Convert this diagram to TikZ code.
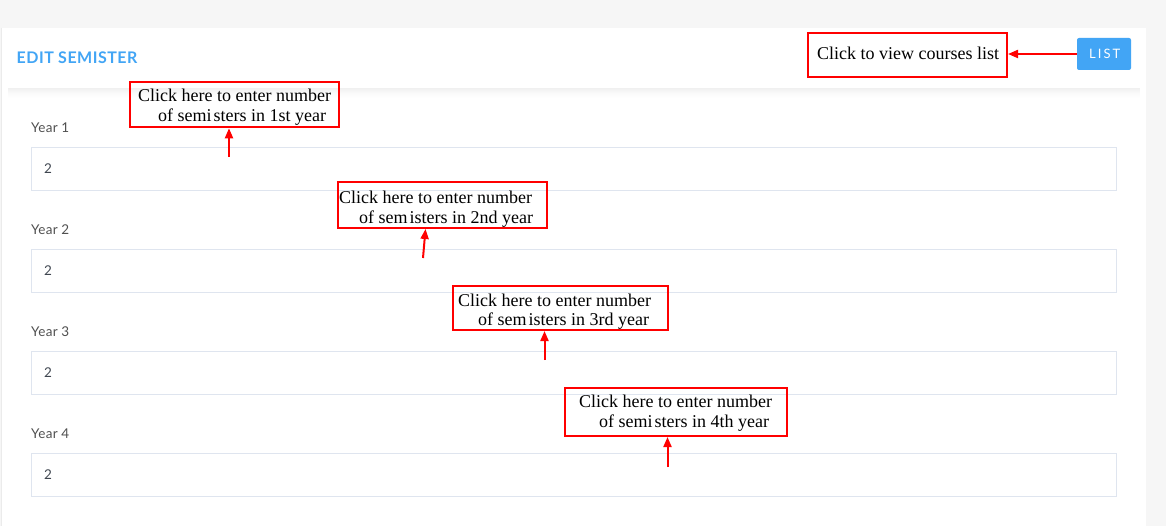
\documentclass[tikz,border=0pt]{standalone}
\usepackage{fontspec}
\setmainfont{Liberation Serif}
\newfontfamily\uifont[LetterSpace=2]{Lato}
\newfontfamily\uifontbold[LetterSpace=3]{Lato Bold}
\newfontfamily\listfont[LetterSpace=16]{Lato}
\usetikzlibrary{arrows.meta,calc}
\definecolor{bggray}{HTML}{F6F6F6}
\definecolor{uiblue}{HTML}{42A5F5}
\definecolor{fieldborder}{HTML}{DFE5EF}
\definecolor{labelgray}{HTML}{505050}
\definecolor{valgray}{HTML}{3F4650}
\definecolor{annred}{HTML}{FF0000}
\begin{document}
\begin{tikzpicture}[x=1pt,y=-1pt,
  annbox/.style={draw=annred, line width=2pt, inner sep=0pt},
  anntext/.style={font=\fontsize{18}{20}\selectfont, inner sep=0pt, anchor=base west},
  annarrow/.style={draw=annred, line width=2pt, -{Triangle[length=10pt,width=8pt]}},
  field/.style={draw=fieldborder, line width=1pt, fill=white, inner sep=0pt, anchor=north west, minimum width=1085pt, minimum height=43pt},
  ylabel/.style={font=\uifont\fontsize{13.5}{15}\selectfont, text=labelgray, anchor=base west, inner sep=0pt},
  fval/.style={font=\uifont\fontsize{13.5}{15}\selectfont, text=valgray, anchor=base west, inner sep=0pt}
]
\useasboundingbox (0,0) rectangle (1166,526);
% background and card
\fill[bggray] (0,0) rectangle (1166,526);
\fill[white] (2,28) rectangle (1146,526);
\draw[black!8, line width=0.8pt] (1.5,28) -- (1.5,526);
% header shadow
\foreach \i/\o in {0/0.06,1/0.05,2/0.042,3/0.034,4/0.027,5/0.02,6/0.015,7/0.01,8/0.006,9/0.003}
  \fill[black, opacity=\o] (8,88+\i) rectangle (1140,89+\i);

% header title
\node[font=\uifontbold\fontsize{16}{18}\selectfont, text=uiblue, anchor=base west, inner sep=0pt] (title) at (16.5,63.3) {EDIT SEMISTER};

% LIST button
\node[fill=uiblue, rounded corners=2pt, minimum width=54pt, minimum height=32pt, inner sep=0pt, text=white, font=\listfont\fontsize{13}{15}\selectfont] (list) at (1104,54) {LIST\kern-1.5pt};

% fields and labels
\foreach \k/\yy in {1/147,2/249,3/351,4/453}{
  \node[field] (f\k) at (31,\yy) {};
  \node[ylabel] (l\k) at (31,\yy-14.3) {Year \k};
  \node[fval] (v\k) at (44,\yy+26.3) {2};
}

% annotation boxes
\node[annbox, minimum width=209pt, minimum height=45.6pt] (b1) at (234.5,104.5) {};
\node[annbox, minimum width=209pt, minimum height=46pt] (b2) at (442.5,205) {};
\node[annbox, minimum width=215pt, minimum height=44pt] (b3) at (560.5,308) {};
\node[annbox, minimum width=222pt, minimum height=48pt] (b4) at (676,412) {};
\node[annbox, minimum width=199pt, minimum height=44pt] (b5) at (907.5,55) {};

% annotation texts
\node[anntext] (t1a) at (138,102) {Click here to enter number};
\node[anntext] (t1b) at (158,122) {of semi\kern2pt sters in 1st year};
\node[anntext] (t2a) at (339,204) {Click here to enter number};
\node[anntext] (t2b) at (359,224) {of sem\kern2pt isters in 2nd year};
\node[anntext] (t3a) at (458,306) {Click here to enter number};
\node[anntext] (t3b) at (478,325) {of sem\kern2pt isters in 3rd year};
\node[anntext] (t4a) at (579,407) {Click here to enter number};
\node[anntext] (t4b) at (599,427) {of semi\kern2pt sters in 4th year};
\node[anntext] (t5) at (817,60) {Click to view courses list};

% arrows
\coordinate (s1) at (229,157);
\coordinate (s2) at (423,258);
\coordinate (s3) at (544.5,360);
\coordinate (s4) at (667.5,467);
\draw[annarrow] (s1) -- (s1 |- b1.south);
\draw[annarrow] (s2) -- ($(s2 |- b2.south)+(2.5,0)$);
\draw[annarrow] (s3) -- (s3 |- b3.south);
\draw[annarrow] (s4) -- (s4 |- b4.south);
\draw[annarrow] (list.west) -- (list.west -| b5.east);
\end{tikzpicture}
\end{document}
